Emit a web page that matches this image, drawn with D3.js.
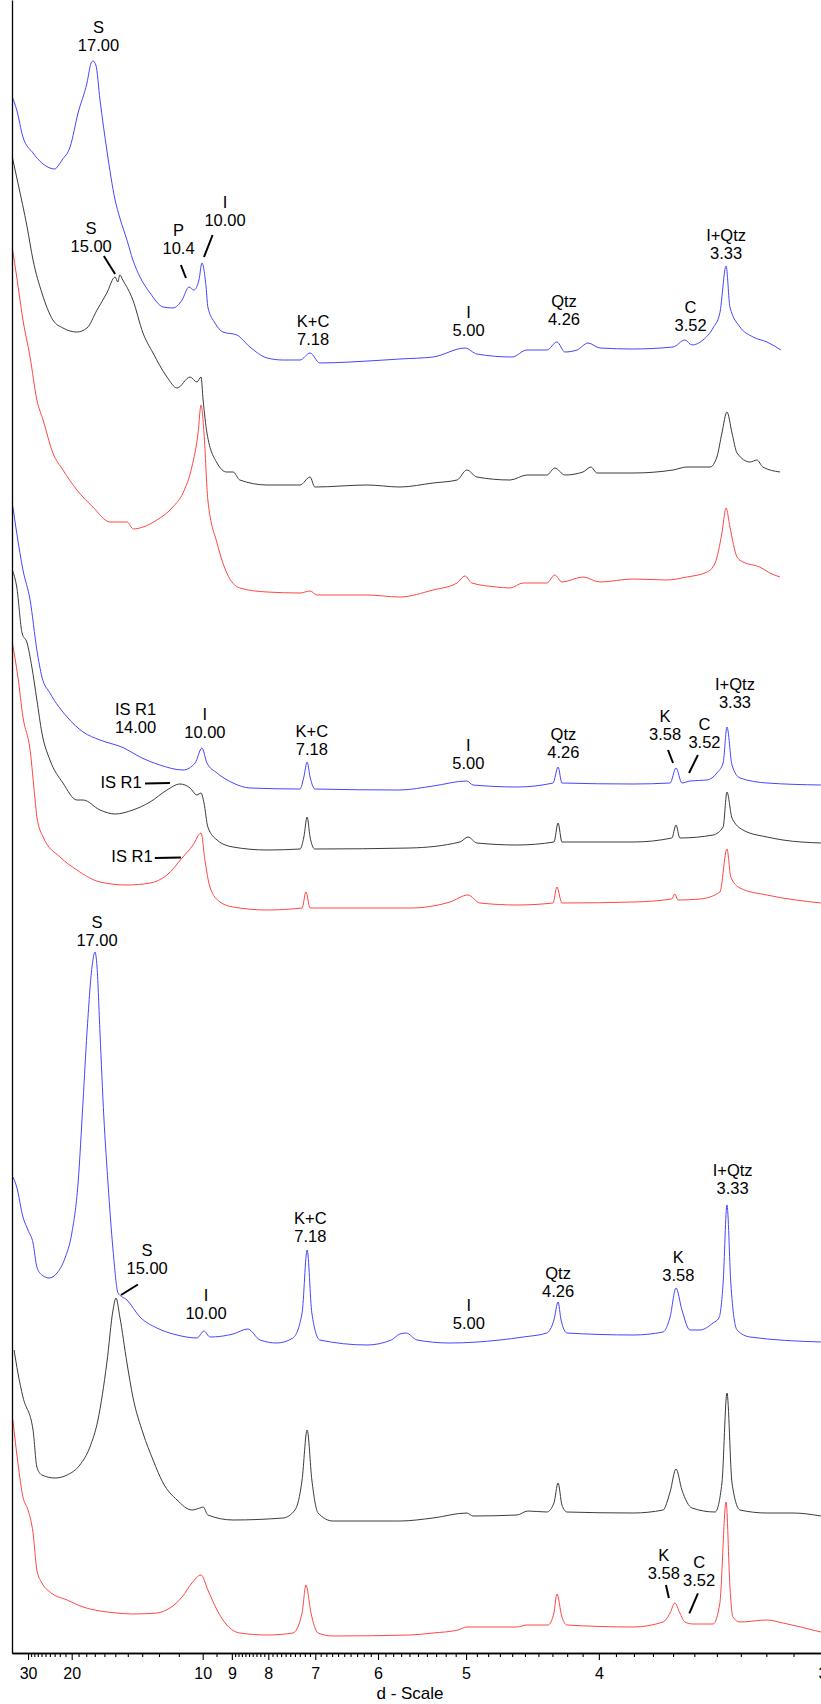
<!DOCTYPE html>
<html><head><meta charset="utf-8">
<script src="https://cdn.jsdelivr.net/npm/d3@7"></script>
<style>
body{margin:0;background:#fff}
svg{display:block}
text{font-family:"Liberation Sans",Arial,Helvetica,sans-serif}
</style></head>
<body><svg id="chart" width="821" height="1704"></svg>
<script>
// ---- DATA: [2-theta (deg, Cu K-alpha), intensity (arbitrary counts)] ----
const topBlue = [[2.41,1556],[2.56,1543],[2.77,1516],[3.11,1500],[3.41,1490],[3.68,1485],[3.85,1484],[3.95,1487],[4.09,1493],[4.36,1506],[4.63,1540],[4.93,1570],[5.07,1590],[5.13,1592],[5.23,1588],[5.37,1553],[5.60,1503],[5.88,1453],[6.04,1435],[6.28,1413],[6.48,1393],[6.72,1376],[7.06,1360],[7.50,1346],[7.83,1345],[8.14,1353],[8.37,1366],[8.54,1363],[8.71,1373],[8.81,1390],[8.95,1366],[9.01,1346],[9.25,1330],[9.52,1321],[9.99,1318],[10.43,1306],[11.01,1295],[11.54,1293],[12.12,1293],[12.46,1300],[12.79,1290],[13.81,1291],[15.49,1294],[16.61,1296],[17.69,1305],[18.09,1299],[19.27,1296],[19.78,1303],[20.45,1303],[20.79,1311],[21.06,1301],[21.47,1303],[21.84,1310],[22.24,1305],[23.36,1304],[24.71,1306],[25.11,1313],[25.35,1308],[25.72,1313],[26.06,1325],[26.29,1340],[26.50,1387],[26.63,1346],[26.97,1326],[27.41,1316],[27.88,1311],[28.35,1303]];
const topBlack = [[2.41,1496],[2.60,1470],[2.91,1426],[3.11,1393],[3.41,1360],[3.78,1333],[4.12,1325],[4.59,1321],[4.93,1325],[5.27,1343],[5.60,1360],[5.88,1376],[5.97,1371],[6.04,1378],[6.14,1373],[6.48,1353],[6.82,1320],[7.16,1300],[7.63,1276],[7.97,1265],[8.41,1276],[8.64,1271],[8.78,1276],[8.85,1253],[8.98,1220],[9.32,1190],[9.65,1181],[9.86,1181],[10.09,1173],[11.01,1168],[12.12,1168],[12.46,1176],[12.62,1166],[14.38,1168],[15.49,1166],[16.61,1170],[17.42,1173],[17.75,1183],[18.09,1176],[19.21,1173],[19.78,1178],[20.45,1178],[20.72,1185],[21.06,1178],[21.67,1181],[21.94,1186],[22.14,1180],[23.36,1180],[24.71,1183],[25.18,1186],[25.96,1186],[26.19,1196],[26.36,1220],[26.53,1241],[26.70,1220],[26.87,1200],[27.31,1191],[27.54,1193],[27.74,1186],[28.32,1181]];
const topRed = [[2.41,1405],[2.56,1376],[2.77,1333],[3.01,1296],[3.24,1253],[3.45,1233],[3.78,1200],[4.12,1183],[4.59,1163],[5.13,1146],[5.71,1131],[6.28,1131],[6.50,1124],[6.82,1126],[7.29,1133],[7.83,1146],[8.17,1160],[8.47,1186],[8.68,1220],[8.78,1248],[8.88,1220],[9.01,1153],[9.32,1110],[9.65,1080],[10.09,1065],[11.01,1061],[12.12,1060],[12.46,1062],[12.69,1058],[14.38,1058],[15.49,1056],[16.61,1063],[17.42,1070],[17.69,1077],[17.92,1070],[18.77,1066],[19.21,1065],[19.65,1070],[20.45,1070],[20.72,1078],[20.96,1071],[21.67,1076],[22.24,1071],[23.36,1074],[24.50,1073],[25.18,1076],[25.86,1081],[26.13,1090],[26.36,1120],[26.50,1145],[26.63,1126],[26.87,1096],[27.07,1091],[27.64,1086],[27.98,1080],[28.32,1076]];

const midBlue = [[2.41,1150],[2.56,1120],[2.77,1083],[3.01,1053],[3.24,1003],[3.41,976],[3.68,960],[4.26,936],[4.80,921],[5.37,913],[6.18,905],[6.72,896],[7.39,888],[8.17,883],[8.58,890],[8.81,905],[8.98,890],[9.32,880],[9.86,870],[10.43,865],[12.12,864],[12.25,876],[12.36,891],[12.46,876],[12.62,864],[15.49,863],[16.61,867],[17.75,872],[17.96,868],[19.44,866],[20.66,870],[20.83,886],[20.96,870],[23.36,869],[24.61,870],[24.81,885],[25.01,870],[25.28,872],[25.86,873],[26.19,880],[26.40,890],[26.53,926],[26.70,888],[26.97,875],[27.88,870],[29.70,868]];
const midBlack = [[2.41,1083],[2.56,1066],[2.74,1020],[2.91,1010],[3.07,986],[3.24,953],[3.41,920],[3.68,893],[4.12,870],[4.59,853],[4.80,853],[5.37,843],[5.88,839],[6.48,843],[7.06,851],[7.63,863],[8.07,869],[8.41,865],[8.64,858],[8.78,860],[8.88,850],[9.01,826],[9.32,813],[9.86,806],[11.01,803],[12.12,804],[12.25,816],[12.36,836],[12.46,816],[12.62,804],[15.83,805],[17.52,811],[17.79,816],[18.09,810],[19.44,808],[20.69,811],[20.83,830],[20.96,811],[23.36,811],[24.67,815],[24.81,828],[24.94,815],[26.06,818],[26.40,826],[26.53,861],[26.70,835],[27.07,823],[27.88,816],[28.42,813],[29.70,810]];
const midRed = [[2.41,1010],[2.60,976],[2.77,936],[3.01,903],[3.18,853],[3.24,836],[3.45,816],[4.02,796],[4.59,783],[5.37,771],[6.28,768],[7.06,770],[7.63,778],[8.14,795],[8.51,808],[8.78,820],[8.91,793],[9.08,766],[9.42,751],[9.86,746],[11.01,743],[12.19,745],[12.32,761],[12.46,745],[15.83,745],[17.18,751],[17.79,758],[18.19,750],[19.44,748],[20.66,750],[20.79,766],[20.96,750],[23.36,751],[24.67,754],[24.77,759],[24.88,753],[25.62,754],[26.29,761],[26.53,804],[26.66,776],[26.97,765],[27.88,758],[29.70,750]];

const botBlue = [[2.43,476],[2.56,466],[2.77,436],[2.94,423],[3.11,410],[3.24,386],[3.41,378],[3.65,375],[3.92,380],[4.19,395],[4.42,420],[4.63,470],[4.80,553],[4.93,620],[5.10,686],[5.20,701],[5.27,686],[5.37,620],[5.50,536],[5.64,470],[5.81,403],[5.98,360],[6.28,353],[6.72,336],[7.29,325],[7.97,318],[8.64,315],[8.88,322],[9.08,316],[9.86,319],[10.36,324],[10.77,313],[11.34,310],[11.88,315],[12.19,340],[12.36,403],[12.52,340],[12.79,313],[14.38,308],[15.20,313],[15.49,319],[15.70,320],[16.07,313],[17.18,310],[18.87,313],[19.65,316],[20.45,320],[20.69,333],[20.83,351],[20.93,333],[21.13,320],[23.36,318],[24.37,321],[24.61,336],[24.81,365],[25.01,343],[25.28,323],[25.62,323],[26.06,330],[26.26,335],[26.40,370],[26.53,448],[26.66,370],[26.87,323],[27.31,316],[29.70,311]];
const botBlack = [[2.47,303],[2.60,280],[2.77,256],[3.11,223],[3.24,186],[3.41,178],[3.85,175],[4.26,178],[4.69,188],[5.03,206],[5.30,233],[5.60,290],[5.81,343],[5.91,355],[6.04,336],[6.28,290],[6.48,256],[6.82,220],[7.16,193],[7.50,170],[7.97,153],[8.47,143],[8.74,145],[8.85,146],[9.01,138],[9.86,133],[11.54,135],[11.95,143],[12.19,173],[12.36,223],[12.52,173],[12.73,140],[13.23,132],[15.49,132],[16.61,135],[17.75,140],[17.96,137],[19.44,138],[19.81,142],[20.45,141],[20.69,150],[20.83,170],[20.96,148],[21.13,141],[23.36,140],[24.37,143],[24.61,161],[24.81,184],[25.01,163],[25.35,145],[26.13,141],[26.36,170],[26.53,260],[26.70,170],[26.97,143],[27.88,140],[28.76,140],[29.70,137]];
const botRed = [[2.43,233],[2.60,190],[2.77,156],[2.94,143],[3.11,120],[3.24,83],[3.41,70],[3.68,61],[4.26,53],[4.80,46],[5.37,42],[5.94,40],[6.48,39],[7.29,40],[7.73,45],[8.14,56],[8.47,70],[8.78,78],[9.01,63],[9.32,43],[9.65,28],[10.09,20],[11.01,18],[11.88,20],[12.19,40],[12.32,68],[12.49,40],[12.73,20],[13.23,17],[15.83,18],[16.61,20],[17.45,23],[17.75,26],[18.43,26],[19.44,26],[19.78,28],[20.49,28],[20.69,40],[20.79,59],[20.96,36],[21.13,28],[23.36,26],[24.37,31],[24.61,40],[24.77,50],[24.94,40],[25.11,31],[25.38,29],[26.06,29],[26.29,50],[26.50,151],[26.63,66],[26.73,36],[26.97,31],[27.88,33],[28.42,30],[29.70,21]];

// axis ticks (d-spacing, Angstrom)
const majorTicksD = [30, 20, 10, 9, 8, 7, 6, 5, 4, 3];
const majorLabels = ["30", "20", "10", "9", "8", "7", "6", "5", "4", "3"];
const minorTicksD = [29,28,27,26,25,24,23,22,21,19,18,17,16,15,14,13,12,11,9.5]
  .concat(d3.range(81, 90).map(v => v / 10), d3.range(71, 80).map(v => v / 10),
          d3.range(61, 70).map(v => v / 10), d3.range(51, 60).map(v => v / 10),
          d3.range(41, 50).map(v => v / 10), d3.range(31, 40).map(v => v / 10));

// peak annotations: label lines, centre 2-theta, intensity of bottom baseline, optional leader
const annotations = [
  {lines:["S","17.00"], tt:5.32, i:1602},
  {lines:["S","15.00"], tt:5.07, i:1401, leader:[[5.50,1397],[5.88,1379]]},
  {lines:["P","10.4"], tt:8.02, i:1399, leader:[[8.10,1388],[8.27,1375]]},
  {lines:["I","10.00"], tt:9.59, i:1427, leader:[[9.17,1418],[8.88,1396]]},
  {lines:["K+C","7.18"], tt:12.56, i:1308},
  {lines:["I","5.00"], tt:17.81, i:1317},
  {lines:["Qtz","4.26"], tt:21.03, i:1328},
  {lines:["C","3.52"], tt:25.30, i:1322},
  {lines:["I+Qtz","3.33"], tt:26.50, i:1394},
  {lines:["IS R1","14.00"], tt:6.57, i:920},
  {lines:["I","10.00"], tt:8.91, i:915},
  {lines:["K+C","7.18"], tt:12.52, i:898},
  {lines:["IS R1"], tt:6.08, i:865, leader:[[6.89,869.5],[7.73,870]]},
  {lines:["IS R1"], tt:6.45, i:791, leader:[[7.22,795],[8.10,795.5]]},
  {lines:["I","5.00"], tt:17.80, i:884},
  {lines:["Qtz","4.26"], tt:21.01, i:895},
  {lines:["K","3.58"], tt:24.44, i:913, leader:[[24.54,903],[24.71,890]]},
  {lines:["C","3.52"], tt:25.77, i:905, leader:[[25.55,898],[25.25,880]]},
  {lines:["I+Qtz","3.33"], tt:26.80, i:945},
  {lines:["S","17.00"], tt:5.27, i:707},
  {lines:["S","15.00"], tt:6.96, i:379, leader:[[6.65,368.5],[6.08,358]]},
  {lines:["I","10.00"], tt:8.95, i:334},
  {lines:["K+C","7.18"], tt:12.47, i:411},
  {lines:["I","5.00"], tt:17.82, i:324},
  {lines:["Qtz","4.26"], tt:20.83, i:356},
  {lines:["K","3.58"], tt:24.89, i:372},
  {lines:["I+Qtz","3.33"], tt:26.72, i:459},
  {lines:["K","3.58"], tt:24.40, i:74, leader:[[24.47,68],[24.57,55]]},
  {lines:["C","3.52"], tt:25.59, i:67, leader:[[25.55,59.7],[25.26,39.7]]}
];

// ---- RENDERING ----
const BLUE = "#4646ff", BLACK = "#3c3c3c", RED = "#ff4646";
const series = [
  {data: topBlue, color: BLUE}, {data: topBlack, color: BLACK}, {data: topRed, color: RED},
  {data: midBlue, color: BLUE}, {data: midBlack, color: BLACK}, {data: midRed, color: RED},
  {data: botBlue, color: BLUE}, {data: botBlack, color: BLACK}, {data: botRed, color: RED}
];

const lambda = 1.5406;
const dToTT = d => 2 * Math.asin(lambda / (2 * d)) * 180 / Math.PI;

const svg = d3.select("#chart");
const x = d3.scaleLinear().domain([2.4, 30]).range([12, 12 + 27.6 * 29.63]);
const y = d3.scaleLinear().domain([0, 1653]).range([1653, 0]);

const line = d3.line().x(d => x(d[0])).y(d => y(d[1])).curve(d3.curveMonotoneX);

svg.append("g").selectAll("path").data(series).join("path")
  .attr("d", s => line(s.data))
  .attr("fill", "none")
  .attr("stroke", s => s.color)
  .attr("stroke-width", 1)
  .attr("stroke-linejoin", "round");

// axes
const gMinor = svg.append("g").attr("transform", `translate(0,${y(0)})`)
  .call(d3.axisBottom(x).tickValues(minorTicksD.map(dToTT)).tickFormat("").tickSize(4).tickSizeOuter(0));
const gMajor = svg.append("g").attr("transform", `translate(0,${y(0)})`)
  .call(d3.axisBottom(x).tickValues(majorTicksD.map(dToTT))
    .tickFormat((t, i) => majorLabels[i]).tickSize(7).tickPadding(8).tickSizeOuter(0));
[gMinor, gMajor].forEach(g => {
  g.select(".domain").attr("stroke", "#000").attr("stroke-width", 1.3);
  g.selectAll(".tick line").attr("stroke", "#000").attr("stroke-width", 1.1);
  g.selectAll("text").attr("font-family", '"Liberation Sans", Arial, sans-serif')
    .attr("font-size", 16).attr("fill", "#000");
});
svg.append("g").attr("transform", `translate(${x(2.4)},0)`)
  .call(d3.axisLeft(y).tickValues([]).tickSizeOuter(0))
  .select(".domain").attr("stroke", "#000").attr("stroke-width", 1.3);

svg.append("text").attr("x", 410).attr("y", 1699).attr("text-anchor", "middle")
  .attr("font-size", 17).attr("fill", "#000").text("d - Scale");

// annotations
const ag = svg.append("g");
annotations.forEach(a => {
  const n = a.lines.length;
  a.lines.forEach((t, k) => {
    ag.append("text").attr("x", x(a.tt)).attr("y", y(a.i) - (n - 1 - k) * 18)
      .attr("text-anchor", "middle").attr("font-size", 16.5).attr("fill", "#000").text(t);
  });
  if (a.leader) {
    ag.append("line")
      .attr("x1", x(a.leader[0][0])).attr("y1", y(a.leader[0][1]))
      .attr("x2", x(a.leader[1][0])).attr("y2", y(a.leader[1][1]))
      .attr("stroke", "#000").attr("stroke-width", 2);
  }
});
</script></body></html>
